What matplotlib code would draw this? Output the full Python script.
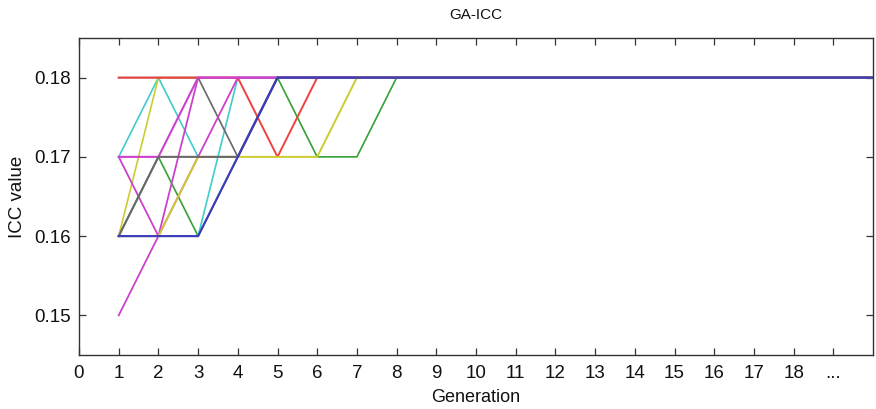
import matplotlib
matplotlib.use("Agg")
import matplotlib.pyplot as plt

plt.rcParams['font.family'] = ['Liberation Sans', 'DejaVu Sans']

generations = [1, 2, 3, 4, 5, 6, 7, 8, 9, 10, 11, 12, 13, 14, 15, 16, 17, 18, 19, 20]

icc_green   = [0.16, 0.17, 0.16, 0.17, 0.18, 0.17, 0.17, 0.18, 0.18, 0.18, 0.18, 0.18, 0.18, 0.18, 0.18, 0.18, 0.18, 0.18, 0.18, 0.18]
icc_cyan1   = [0.17, 0.18, 0.17, 0.17, 0.18, 0.18, 0.18, 0.18, 0.18, 0.18, 0.18, 0.18, 0.18, 0.18, 0.18, 0.18, 0.18, 0.18, 0.18, 0.18]
icc_cyan2   = [0.16, 0.16, 0.16, 0.18, 0.18, 0.18, 0.18, 0.18, 0.18, 0.18, 0.18, 0.18, 0.18, 0.18, 0.18, 0.18, 0.18, 0.18, 0.18, 0.18]
icc_yellow1 = [0.16, 0.18, 0.18, 0.18, 0.18, 0.18, 0.18, 0.18, 0.18, 0.18, 0.18, 0.18, 0.18, 0.18, 0.18, 0.18, 0.18, 0.18, 0.18, 0.18]
icc_gray2   = [0.18, 0.18, 0.18, 0.17, 0.18, 0.18, 0.18, 0.18, 0.18, 0.18, 0.18, 0.18, 0.18, 0.18, 0.18, 0.18, 0.18, 0.18, 0.18, 0.18]
icc_red     = [0.18, 0.18, 0.18, 0.18, 0.17, 0.18, 0.18, 0.18, 0.18, 0.18, 0.18, 0.18, 0.18, 0.18, 0.18, 0.18, 0.18, 0.18, 0.18, 0.18]
icc_magA    = [0.15, 0.16, 0.18, 0.18, 0.18, 0.18, 0.18, 0.18, 0.18, 0.18, 0.18, 0.18, 0.18, 0.18, 0.18, 0.18, 0.18, 0.18, 0.18, 0.18]
icc_magB    = [0.17, 0.16, 0.17, 0.18, 0.18, 0.18, 0.18, 0.18, 0.18, 0.18, 0.18, 0.18, 0.18, 0.18, 0.18, 0.18, 0.18, 0.18, 0.18, 0.18]
icc_magC    = [0.17, 0.17, 0.18, 0.18, 0.18, 0.18, 0.18, 0.18, 0.18, 0.18, 0.18, 0.18, 0.18, 0.18, 0.18, 0.18, 0.18, 0.18, 0.18, 0.18]
icc_yellow2 = [0.16, 0.16, 0.17, 0.17, 0.17, 0.17, 0.18, 0.18, 0.18, 0.18, 0.18, 0.18, 0.18, 0.18, 0.18, 0.18, 0.18, 0.18, 0.18, 0.18]
icc_gray1   = [0.16, 0.17, 0.17, 0.17, 0.18, 0.18, 0.18, 0.18, 0.18, 0.18, 0.18, 0.18, 0.18, 0.18, 0.18, 0.18, 0.18, 0.18, 0.18, 0.18]
icc_blue    = [0.16, 0.16, 0.16, 0.17, 0.18, 0.18, 0.18, 0.18, 0.18, 0.18, 0.18, 0.18, 0.18, 0.18, 0.18, 0.18, 0.18, 0.18, 0.18, 0.18]

x_ticks = [0, 1, 2, 3, 4, 5, 6, 7, 8, 9, 10, 11, 12, 13, 14, 15, 16, 17, 18, 19]
x_tick_labels = ['0', '1', '2', '3', '4', '5', '6', '7', '8', '9', '10', '11', '12',
                 '13', '14', '15', '16', '17', '18', '...']
y_ticks = [0.15, 0.16, 0.17, 0.18]
y_tick_labels = ['0.15', '0.16', '0.17', '0.18']

GREEN = '#35a035'
CYAN = '#40cccc'
YELLOW = '#cccc30'
GRAY = '#686868'
RED = '#f04040'
MAGENTA = '#cc40cc'
BLUE = '#3c3cbc'

series = [
    (icc_green, GREEN, 1.2),
    (icc_cyan1, CYAN, 1.2),
    (icc_cyan2, CYAN, 1.2),
    (icc_yellow1, YELLOW, 1.2),
    (icc_gray2, GRAY, 1.2),
    (icc_red, RED, 1.4),
    (icc_magA, MAGENTA, 1.3),
    (icc_magB, MAGENTA, 1.3),
    (icc_magC, MAGENTA, 1.5),
    (icc_yellow2, YELLOW, 1.4),
    (icc_gray1, GRAY, 1.5),
    (icc_blue, BLUE, 1.55),
]

fig = plt.figure(figsize=(8.76, 4.09), dpi=100)
ax = fig.add_axes([79 / 876, 1 - 355 / 409, (873 - 79) / 876, (355 - 38) / 409])

for vals, col, lw in series:
    ax.plot(generations, vals, color=col, lw=lw, solid_joinstyle='miter')

ax.set_xlim(0, 20)
ax.set_ylim(0.145, 0.185)
ax.set_xticks(x_ticks)
ax.set_xticklabels(x_tick_labels)
ax.set_yticks(y_ticks)
ax.set_yticklabels(y_tick_labels)

ax.tick_params(axis='both', direction='in', length=5, width=0.9, color='#333333',
               labelsize=13.5, top=True, right=True, labelcolor='#111111')
ax.tick_params(axis='x', pad=7)
ax.tick_params(axis='y', pad=6)
for sp in ax.spines.values():
    sp.set_color('#333333')
    sp.set_linewidth(1.0)

ax.set_title('GA-ICC', fontsize=11, pad=14, color='#111111')
ax.set_xlabel('Generation', fontsize=13, labelpad=5, color='#111111')
ax.set_ylabel('ICC value', fontsize=13.5, labelpad=6, color='#111111')

fig.savefig('out.png', dpi=100)
